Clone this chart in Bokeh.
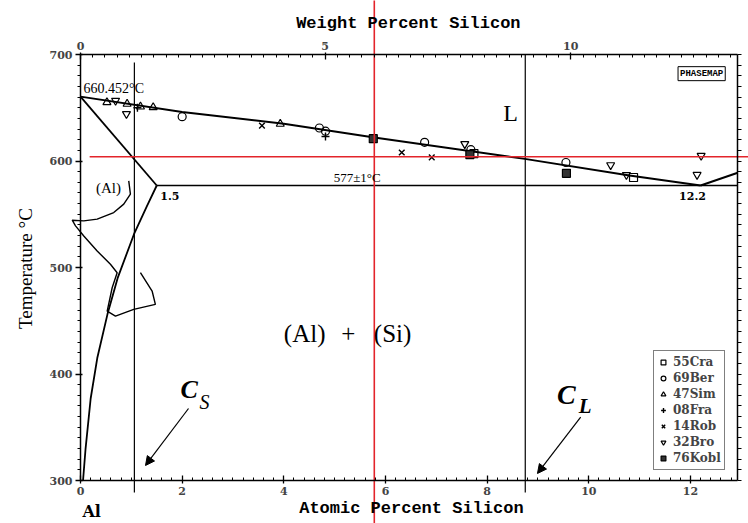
import numpy as np
from bokeh.plotting import figure
from bokeh.models import (Range1d, LinearAxis, FixedTicker, CustomJSTickFormatter,
                          Label, Arrow, NormalHead, Legend, LegendItem)
from bokeh.embed import file_html
from bokeh.resources import INLINE

# ---- Al-Si phase diagram (aluminium-rich side) ----
AL_MELT = 660.452          # melting point of Al, °C
EUTECTIC_T = 577.0         # eutectic temperature, °C
EUTECTIC_X = 12.2          # eutectic composition, at.% Si
MAX_SOL_X = 1.5            # maximum solubility of Si in (Al), at.% Si

# diagram box (at.% Si, °C)
X_MIN, X_MAX = 0.0, 12.93
T_MIN, T_MAX = 300.0, 700.0

# liquidus of (Al)
liq_x = [0.0, 2.0, 4.0, 5.78, 8.74, 10.8, EUTECTIC_X]
liq_t = [AL_MELT, 646.0, 635.0, 622.0, 602.0, 586.4, EUTECTIC_T]
# liquidus of (Si)
liq_si_x = [EUTECTIC_X, X_MAX]
liq_si_t = [EUTECTIC_T, 589.0]
# solidus
sol_x = [0.0, MAX_SOL_X]
sol_t = [AL_MELT, EUTECTIC_T]
# solvus
solv_x = [MAX_SOL_X, 1.3, 1.05, 0.73, 0.53, 0.33, 0.2, 0.1, 0.05]
solv_t = [EUTECTIC_T, 557.0, 531.0, 490.0, 456.0, 415.0, 377.0, 330.0, 300.0]
# eutectic isotherm
eut_x = [MAX_SOL_X, X_MAX]
eut_t = [EUTECTIC_T, EUTECTIC_T]

# hand-drawn pencil trace near the (Al) field
trace_x = [0.949, 0.982, 0.851, 0.654, 0.328, 0.065, -0.163, -0.098, 0.065, 0.328,
           0.589, 0.721, 0.623, 0.525, 0.688, 1.047, 1.473, 1.409, 1.179]
trace_t = [581.4, 568.9, 559.5, 551.6, 545.4, 543.8, 544.4, 539.1, 529.6, 515.5,
           503.0, 495.1, 481.0, 459.1, 454.4, 460.7, 465.4, 477.9, 495.1]

# compositions marked on the diagram
CS_X = 1.06     # solid composition line
CL_X = 8.75     # liquid composition line
RED_X = 5.78    # alloy composition
RED_T = 604.0   # temperature of interest

# experimental liquidus data by source: (at.% Si, °C)
sources = ["55Cra", "69Ber", "47Sim", "08Fra", "14Rob", "32Bro", "76Kobl"]
cra_x, cra_t = [7.74, 10.88], [607.0, 584.5]
ber_x, ber_t = [2.0, 4.70, 4.82, 6.77, 7.68, 9.55], [641.6, 631.0, 628.0, 617.5, 610.6, 598.6]
sim_x, sim_t = [0.52, 0.917, 1.18, 1.43, 3.93], [655.1, 653.6, 651.0, 650.4, 634.8]
fra_x, fra_t = [1.12, 4.82], [650.0, 623.0]
rob_x, rob_t = [3.57, 6.32, 6.91], [633.2, 608.0, 603.4]
bro_x = [0.69, 0.904, 7.56, 10.43, 10.74, 12.13, 12.21]
bro_t = [656.7, 644.2, 616.0, 596.2, 587.0, 587.1, 605.0]
kob_x, kob_t = [5.76, 7.66, 9.56], [621.0, 606.0, 588.4]

# axis ticks
temp_ticks = [300, 400, 500, 600, 700]
at_ticks = [0, 2, 4, 6, 8, 10, 12]
wt_ticks = [0, 5, 10]

M_AL, M_SI = 26.9815, 28.0855


def wt_to_at(w):
    return (w / M_SI) / (w / M_SI + (100.0 - w) / M_AL) * 100.0


SERIF = "Liberation Serif"
MONO = "Liberation Mono"
TICKF = "DejaVu Serif"

# the frame fills the page; the diagram box sits inside it with room for the margins
PX_X = 50.83   # px per at.%
PX_T = 1.065   # px per °C
p = figure(width=748, height=523, min_border=0,
           x_range=Range1d(X_MIN - 80 / PX_X, X_MIN + 668 / PX_X),
           y_range=Range1d(T_MAX - 469 / PX_T, T_MAX + 54 / PX_T),
           output_backend="svg", toolbar_location=None)
p.grid.visible = False
p.outline_line_color = None
p.background_fill_color = "white"
p.border_fill_color = "white"

# bottom axis: atomic percent
xa = p.xaxis[0]
xa.fixed_location = T_MIN
xa.bounds = (X_MIN, X_MAX)
xa.ticker = FixedTicker(ticks=at_ticks, minor_ticks=list(np.arange(0, 13.0, 0.2)))
xa.major_tick_in, xa.major_tick_out = 5, 3
xa.minor_tick_in, xa.minor_tick_out = 3, 0

# left axis: temperature
ya = p.yaxis[0]
ya.fixed_location = X_MIN
ya.bounds = (T_MIN, T_MAX)
ya.ticker = FixedTicker(ticks=temp_ticks, minor_ticks=list(range(300, 701, 10)))
ya.major_tick_in, ya.major_tick_out = 2, 5
ya.minor_tick_in, ya.minor_tick_out = 0, 3

# top axis: weight percent
top = LinearAxis(
    fixed_location=T_MAX, bounds=(X_MIN, X_MAX),
    ticker=FixedTicker(ticks=[wt_to_at(w) for w in wt_ticks],
                       minor_ticks=[wt_to_at(w) for w in np.arange(0, 13.5, 0.25)]),
    formatter=CustomJSTickFormatter(code="""
        const w = tick*28.0855/(tick*28.0855 + (100 - tick)*26.9815)*100;
        return Math.round(w).toString();"""))
top.major_tick_in, top.major_tick_out = 5, 2
top.minor_tick_in, top.minor_tick_out = 3, 0
p.add_layout(top, "above")

# right axis: ticks only
right = LinearAxis(fixed_location=X_MAX, bounds=(T_MIN, T_MAX),
                   ticker=FixedTicker(ticks=[], minor_ticks=list(range(300, 701, 10))))
right.minor_tick_in, right.minor_tick_out = 0, 4
p.add_layout(right, "right")

for ax in (xa, ya, top, right):
    ax.axis_line_width = 1.5
    ax.major_tick_line_width = 1.3
    ax.minor_tick_line_width = 1
    ax.major_label_text_font = TICKF
    ax.major_label_text_font_style = "bold"
    ax.major_label_text_font_size = "11px"
    ax.major_label_standoff = 3

# phase boundaries
p.line(liq_x, liq_t, line_color="black", line_width=2)
p.line(liq_si_x, liq_si_t, line_color="black", line_width=2)
p.line(sol_x, sol_t, line_color="black", line_width=1.8)
p.line(solv_x, solv_t, line_color="black", line_width=1.8)
p.line(eut_x, eut_t, line_color="black", line_width=1.5)
p.line(trace_x, trace_t, line_color="black", line_width=1.4)

# composition lines
p.segment(x0=[CS_X, CL_X], y0=[692.5, T_MAX], x1=[CS_X, CL_X], y1=[288.7, 288.7],
          line_color="black", line_width=1.2)

# data points
mk = dict(size=8, line_color="black", line_width=1.2, fill_color=None)
r_cra = p.scatter(cra_x, cra_t, marker="square", **mk)
r_ber = p.scatter(ber_x, ber_t, marker="circle", **mk)
r_sim = p.scatter(sim_x, sim_t, marker="triangle", **mk)
r_fra = p.scatter(fra_x, fra_t, marker="cross", size=8, line_color="black", line_width=1.4)
r_rob = p.scatter(rob_x, rob_t, marker="x", size=8, line_color="black", line_width=1.4)
r_bro = p.scatter(bro_x, bro_t, marker="inverted_triangle", **mk)
r_kob = p.scatter(kob_x, kob_t, marker="square", size=8, line_color="black",
                  line_width=1.2, fill_color="#333333")

# alloy composition and temperature guides, across the whole page
p.segment(x0=[RED_X, X_MIN + 0.18], y0=[T_MAX + 60, RED_T],
          x1=[RED_X, X_MAX + 1.0], y1=[T_MIN - 60, RED_T],
          line_color="#e3242b", line_width=1.6)

legend = Legend(items=[LegendItem(label=s, renderers=[r]) for s, r in
                       zip(sources, [r_cra, r_ber, r_sim, r_fra, r_rob, r_bro, r_kob])],
                location=(653, 53), orientation="vertical")
legend.label_text_font = TICKF
legend.label_text_font_style = "bold"
legend.label_text_font_size = "12px"
legend.label_height = 16
legend.glyph_height = 16
legend.glyph_width = 12
legend.label_standoff = 4
legend.spacing = 0
legend.padding = 3
legend.margin = 0
legend.border_line_color = "black"
legend.border_line_width = 1.5
legend.background_fill_alpha = 1
p.add_layout(legend)

head = dict(size=9, fill_color="black", line_color="black", line_width=1)
p.add_layout(Arrow(end=NormalHead(**head), x_start=2.125, y_start=367.6,
                   x_end=1.279, y_end=314.1, line_color="black", line_width=1.2))
p.add_layout(Arrow(end=NormalHead(**head), x_start=9.84, y_start=359.4,
                   x_end=8.99, y_end=306.6, line_color="black", line_width=1.2))


def lab(x, y, text, size, font=SERIF, style="normal", align="left", base="middle", **kw):
    p.add_layout(Label(x=x, y=y, text=text, text_font=font, text_font_style=style,
                       text_font_size=size, text_align=align, text_baseline=base,
                       text_color="black", **kw))


# axis titles
lab(6.45, 729.1, "Weight Percent Silicon", "17px", font=MONO, style="bold", align="center")
lab(6.51, 273.7, "Atomic Percent Silicon", "17px", font=MONO, style="bold", align="center")
lab(-1.082, 499.0, "Temperature °C", "19px", align="center", angle=np.pi / 2)

# annotations
lab(0.06, 668, f"{AL_MELT}°C", "14px")
lab(0.55, 575, "(Al)", "15px", align="center")
lab(1.57, 566.7, f"{MAX_SOL_X}", "11px", font=TICKF, style="bold")
lab(4.98, 584.5, f"{EUTECTIC_T:.0f}±1°C", "13px")
lab(12.04, 566.7, f"{EUTECTIC_X}", "11px", font=TICKF, style="bold", align="center")
lab(8.46, 645.5, "L", "24px", align="center")
# two-phase field name, spread across the field
lab(4.41, 438, "(Al)", "25px", align="center")
lab(5.27, 438, "+", "25px", align="center")
lab(6.14, 438, "(Si)", "25px", align="center")
lab(12.22, 682, "PHASEMAP", "9px", font=MONO, style="bold", align="center",
    border_line_color="black", border_line_width=1, padding=2)
lab(2.14, 385.4, "C", "26px", style="bold italic", align="center")
lab(2.44, 374.0, "S", "20px", style="italic", align="center")
lab(9.56, 380.8, "C", "28px", style="bold italic", align="center")
lab(9.93, 370.4, "L", "21px", style="bold italic", align="center")
lab(0.22, 270.9, "Al", "16px", font=TICKF, style="bold", align="center")

open("out.html", "w").write(file_html(p, INLINE))
